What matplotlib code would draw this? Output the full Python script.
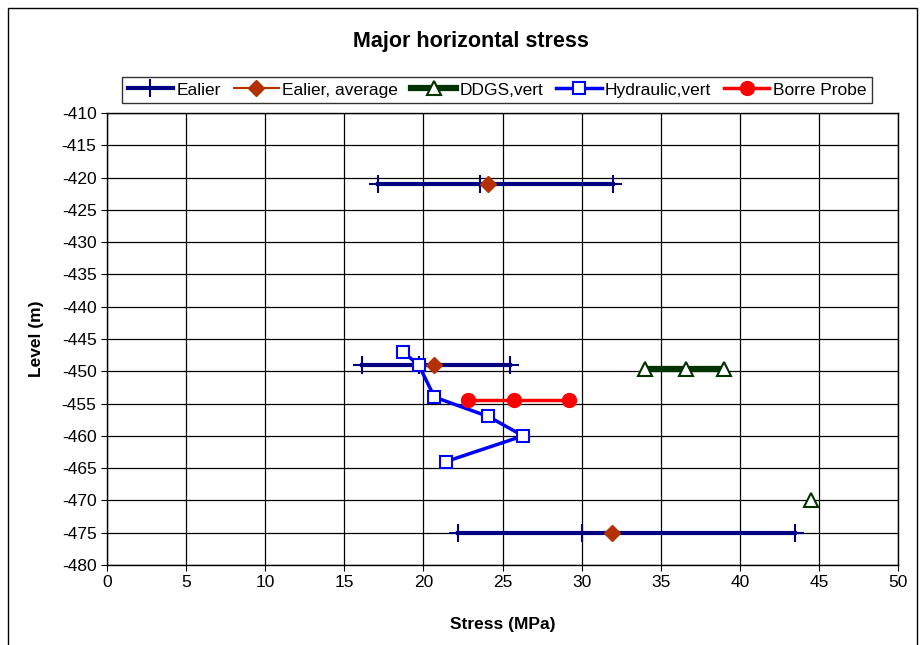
import numpy as np
import matplotlib.pyplot as plt

plt.rcParams['font.family'] = ['Liberation Sans', 'DejaVu Sans']
plt.rcParams['axes.unicode_minus'] = False

# data (NaN = break between groups)
ealier_x = [17.1, 23.6, 32.0, np.nan, 16.1, 19.7, 25.5, np.nan, 22.2, 30.0, 43.5]
ealier_y = [-421, -421, -421, np.nan, -449, -449, -449, np.nan, -475, -475, -475]
avg_x = [24.1, np.nan, 20.7, np.nan, 31.9]
avg_y = [-421, np.nan, -449, np.nan, -475]
ddgs_x = [34.0, 36.6, 39.0, np.nan, 44.5]
ddgs_y = [-449.6, -449.6, -449.6, np.nan, -470]
hyd_x = [18.7, 19.7, 20.7, 24.1, 26.3, 21.4]
hyd_y = [-447, -449, -454, -457, -460, -464]
borre_x = [22.8, 25.7, 29.2]
borre_y = [-454.5, -454.5, -454.5]

fig = plt.figure(figsize=(9.24, 6.45), dpi=100)
ax = fig.add_axes([107/924, 1-565/645, (898-107)/924, (565-113)/645])

ax.plot(ealier_x, ealier_y, color='#000080', lw=3, marker='+', ms=13, mew=1.5, label='Ealier')
ax.plot(avg_x, avg_y, color='#B33000', lw=1.5, marker='D', ms=8, label='Ealier, average')
ax.plot(ddgs_x, ddgs_y, color='#003300', lw=4.5, marker='^', ms=10, mfc='white', mew=1.5, label='DDGS,vert')
ax.plot(hyd_x, hyd_y, color='#0000FF', lw=2.5, marker='s', ms=9, mfc='white', mew=1.5, label='Hydraulic,vert')
ax.plot(borre_x, borre_y, color='#FF0000', lw=2.5, marker='o', ms=10, label='Borre Probe')

ax.set_xlim(0, 50)
ax.set_ylim(-480, -410)
ax.set_xticks(np.arange(0, 51, 5))
ax.set_yticks(np.arange(-480, -409, 5))
ax.grid(True, color='black', lw=0.9)
ax.set_axisbelow(True)
ax.tick_params(labelsize=12.5, direction='out', length=4, color='black')
for s in ax.spines.values():
    s.set_color('black')
    s.set_linewidth(1)

ax.set_xlabel('Stress (MPa)', fontsize=12.5, fontweight='bold', labelpad=19)
ax.set_ylabel('Level (m)', fontsize=12.5, fontweight='bold', labelpad=13)
fig.text(471/924, 1-41/645, 'Major horizontal stress', ha='center', va='center',
         fontsize=15.5, fontweight='bold')

leg = fig.legend(loc='center', bbox_to_anchor=(497/924, 1-90/645), ncol=5, fontsize=12.5,
                 frameon=True, fancybox=False, edgecolor='black', handlelength=2.6,
                 handletextpad=0.2, columnspacing=0.75, borderpad=0.3)
leg.get_frame().set_linewidth(1)

# outer chart border
fig.add_artist(plt.Rectangle((8/924, -0.01), (917-8)/924, 1-8/645 + 0.01, transform=fig.transFigure,
                             fill=False, edgecolor='black', lw=1))

fig.savefig('out.png', dpi=100)
